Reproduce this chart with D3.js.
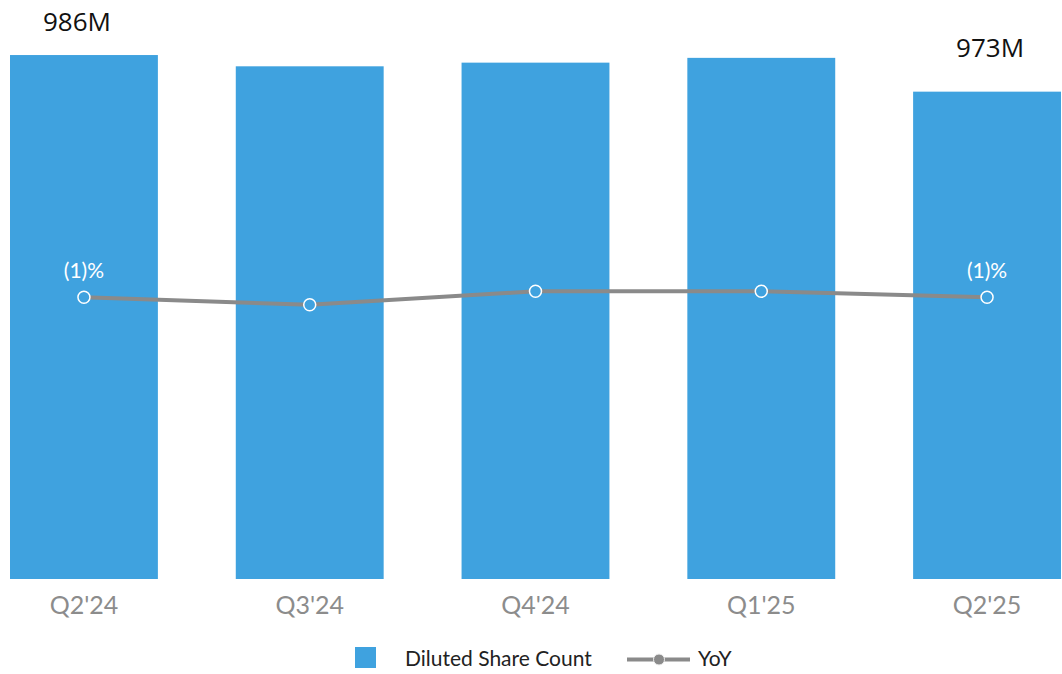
<!DOCTYPE html>
<html>
<head>
<meta charset="utf-8">
<script src="https://cdn.jsdelivr.net/npm/d3@7/dist/d3.min.js"></script>
<style>
  html, body { margin: 0; padding: 0; background: #fff; }
  svg { display: block; font-family: Lato, "Open Sans", sans-serif; }
</style>
</head>
<body>
<svg id="chart" width="1062" height="674"></svg>
<script>
const categories = ["Q2'24", "Q3'24", "Q4'24", "Q1'25", "Q2'25"];
const shareCount = [986, 982, 983.3, 985, 973];
const shareLabels = ["986M", "", "", "", "973M"];
const yoy = [-1.0, -1.5, -0.6, -0.6, -1.0];
const yoyLabels = ["(1)%", "", "", "", "(1)%"];
const legendItems = ["Diluted Share Count", "YoY"];

const barColor = "#3fa2df";
const lineColor = "#8a8a8a";
const labelGap = [24, 0, 0, 0, 35];
const labelShift = [-7, 0, 0, 0, 3];

const svg = d3.select("#chart");

const x = d3.scaleBand().domain(categories).range([10, 1061]).paddingInner(0.345).paddingOuter(0);
const y = d3.scaleLinear().domain([800, 1000]).range([579, 15.6]);
const y2 = d3.scaleLinear().domain([-2, 0]).range([312.3, 282.3]);

// bars
svg.append("g").selectAll("rect").data(categories).join("rect")
  .attr("x", d => x(d))
  .attr("width", x.bandwidth())
  .attr("y", (d, i) => y(shareCount[i]))
  .attr("height", (d, i) => y(800) - y(shareCount[i]))
  .attr("fill", barColor);

// bar value labels
svg.append("g").selectAll("text").data(categories).join("text")
  .attr("x", (d, i) => x(d) + x.bandwidth() / 2 + labelShift[i])
  .attr("y", (d, i) => y(shareCount[i]) - labelGap[i])
  .attr("text-anchor", "middle")
  .attr("font-family", "'Open Sans', sans-serif")
  .attr("font-size", 26)
  .attr("fill", "#111")
  .text((d, i) => shareLabels[i]);

// x axis labels
const xAxis = d3.axisBottom(x).tickSize(0).tickPadding(17);
const gx = svg.append("g").attr("transform", `translate(0,${y(800)})`).call(xAxis);
gx.select(".domain").remove();
gx.selectAll("text").attr("font-family", "Lato, sans-serif").attr("font-size", 25).attr("fill", "#8c8c8c");

// yoy line
const line = d3.line().x((d, i) => x(categories[i]) + x.bandwidth() / 2).y(d => y2(d));
svg.append("path").datum(yoy).attr("d", line)
  .attr("fill", "none").attr("stroke", lineColor).attr("stroke-width", 4);

svg.append("g").selectAll("circle").data(yoy).join("circle")
  .attr("cx", (d, i) => x(categories[i]) + x.bandwidth() / 2)
  .attr("cy", d => y2(d))
  .attr("r", 6)
  .attr("fill", barColor)
  .attr("stroke", "#fff").attr("stroke-width", 1.5);

svg.append("g").selectAll("text").data(yoy).join("text")
  .attr("x", (d, i) => x(categories[i]) + x.bandwidth() / 2)
  .attr("y", d => y2(d) - 19)
  .attr("text-anchor", "middle")
  .attr("font-family", "Lato, sans-serif")
  .attr("font-size", 21)
  .attr("fill", "#fff")
  .text((d, i) => yoyLabels[i]);

// legend
const lg = svg.append("g");
lg.append("rect").attr("x", 355).attr("y", 647).attr("width", 21).attr("height", 21).attr("fill", barColor);
lg.append("text").attr("x", 405).attr("y", 666).attr("font-family", "Lato, sans-serif")
  .attr("font-size", 21).attr("fill", "#222").text(legendItems[0]);
lg.append("line").attr("x1", 627).attr("x2", 690).attr("y1", 659.5).attr("y2", 659.5)
  .attr("stroke", lineColor).attr("stroke-width", 4);
lg.append("circle").attr("cx", 659).attr("cy", 659.5).attr("r", 5.5)
  .attr("fill", lineColor).attr("stroke", "#eee").attr("stroke-width", 1);
lg.append("text").attr("x", 698).attr("y", 666).attr("font-family", "Lato, sans-serif")
  .attr("font-size", 21).attr("fill", "#222").text(legendItems[1]);
</script>
</body>
</html>
